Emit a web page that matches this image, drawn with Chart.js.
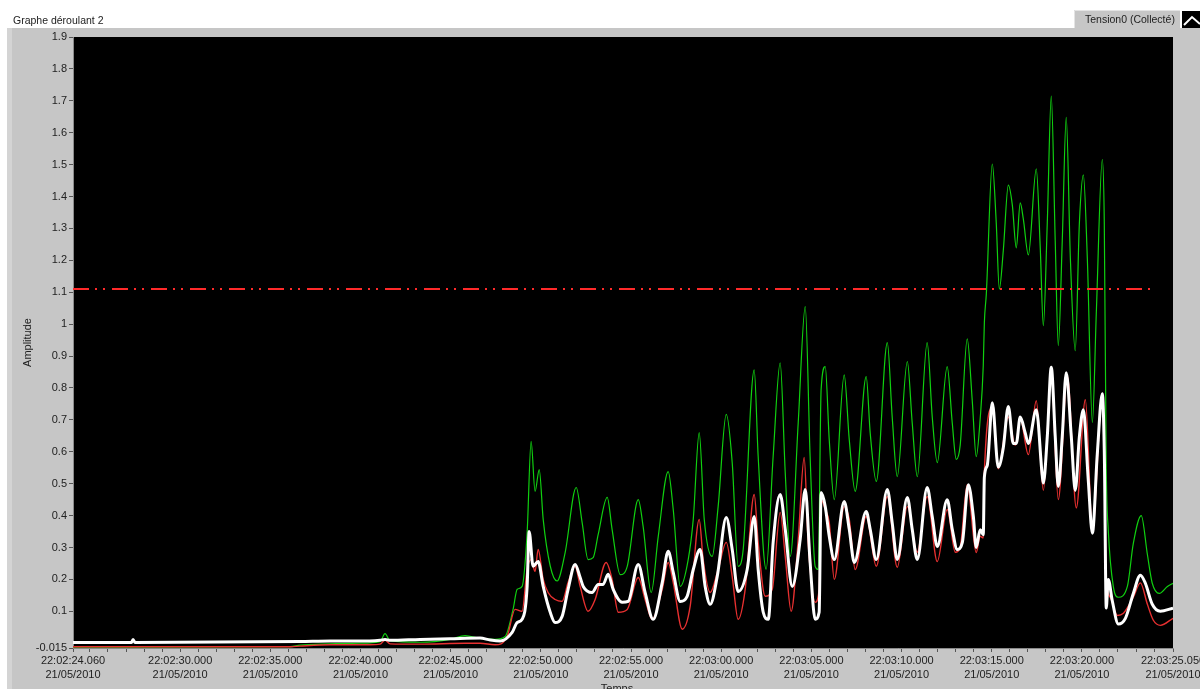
<!DOCTYPE html>
<html><head><meta charset="utf-8">
<script src="https://cdn.jsdelivr.net/npm/chart.js@4.4.1/dist/chart.umd.min.js"></script>
<style>html,body{margin:0;padding:0;background:#fff;overflow:hidden}</style>
</head><body>
<canvas id="c" width="1200" height="689"></canvas>
<script>
const chartTitle = 'Graphe déroulant 2';
const legendLabel = 'Tension0 (Collecté)';
const xAxisTitle = 'Temps';
const yAxisTitle = 'Amplitude';
const dateLabel = '21/05/2010';
const thresholdValue = 1.11;

// time axis: seconds after 22:02:00
const xMin = 24.06, xMax = 85.05;
const xMajorTimes = [24.06, 30, 35, 40, 45, 50, 55, 60, 65, 70, 75, 80, 85.05];
const xMajorLabels = ['22:02:24.060','22:02:30.000','22:02:35.000','22:02:40.000','22:02:45.000','22:02:50.000','22:02:55.000','22:03:00.000','22:03:05.000','22:03:10.000','22:03:15.000','22:03:20.000','22:03:25.050'];
const yTickValues = [-0.015,0.1,0.2,0.3,0.4,0.5,0.6,0.7,0.8,0.9,1,1.1,1.2,1.3,1.4,1.5,1.6,1.7,1.8,1.9];
const yTickLabels = ['-0.015','0.1','0.2','0.3','0.4','0.5','0.6','0.7','0.8','0.9','1','1.1','1.2','1.3','1.4','1.5','1.6','1.7','1.8','1.9'];

const greenT = [24.06,27.22,36.10,36.65,38.31,39.98,41.09,41.36,41.64,43.31,44.97,45.80,46.63,47.46,48.02,48.46,48.69,48.96,49.24,49.46,49.68,49.91,50.13,50.52,50.90,51.35,51.96,52.29,52.62,52.90,53.18,53.68,53.95,54.40,54.79,55.40,55.67,56.12,56.51,57.06,57.34,57.73,58.17,58.45,58.78,59.06,59.50,59.83,60.28,60.61,60.94,61.22,61.83,62.05,62.49,62.88,63.27,63.55,63.83,64.27,64.66,64.93,65.21,65.38,65.54,65.77,65.99,66.27,66.82,67.10,67.43,68.04,68.26,68.60,69.21,69.48,69.76,70.32,70.59,70.87,71.42,71.70,71.98,72.53,72.81,73.03,73.25,73.64,73.92,74.14,74.36,74.53,74.59,74.70,75.03,75.25,75.42,75.64,75.92,76.14,76.36,76.58,76.75,77.03,77.47,77.69,77.86,78.08,78.30,78.52,78.69,78.91,79.13,79.36,79.63,79.86,80.08,80.30,80.58,80.80,81.13,81.24,81.35,81.46,81.74,82.02,82.52,82.85,83.29,83.63,83.90,84.29,84.74,85.05];
const greenV = [-0.012,-0.012,-0.011,-0.006,-0.002,0.0,0.005,0.03,0.008,0.003,0.012,0.024,0.015,0.012,0.021,0.106,0.169,0.178,0.347,0.633,0.476,0.544,0.388,0.242,0.195,0.285,0.488,0.378,0.262,0.268,0.341,0.457,0.357,0.215,0.241,0.45,0.366,0.159,0.335,0.538,0.419,0.178,0.262,0.388,0.66,0.388,0.272,0.428,0.717,0.566,0.241,0.294,0.857,0.585,0.232,0.585,0.879,0.535,0.272,0.691,1.055,0.585,0.241,0.231,0.795,0.867,0.638,0.45,0.841,0.638,0.476,0.836,0.66,0.507,0.942,0.71,0.522,0.883,0.691,0.522,0.942,0.71,0.566,0.867,0.691,0.576,0.62,0.954,0.76,0.585,0.704,0.87,1.004,1.095,1.502,1.318,1.11,1.23,1.436,1.374,1.239,1.38,1.33,1.217,1.487,1.239,0.995,1.318,1.715,1.261,0.933,1.261,1.648,1.206,0.917,1.318,1.468,1.206,0.692,1.039,1.516,1.318,0.547,0.356,0.178,0.144,0.178,0.313,0.4,0.278,0.188,0.156,0.178,0.188];

const redT = [24.06,36.10,36.65,38.31,40.50,41.09,41.36,41.64,43.31,45.80,46.63,47.46,48.13,48.57,48.96,49.24,49.46,49.68,49.85,50.13,50.40,50.79,51.18,51.51,51.90,52.18,52.62,53.01,53.62,53.95,54.29,54.79,55.40,55.78,56.17,56.73,57.06,57.34,57.84,58.28,58.78,59.00,59.39,59.83,60.28,60.61,60.94,61.33,61.83,62.05,62.44,62.83,63.27,63.55,63.88,64.27,64.60,64.82,65.21,65.43,65.54,65.77,65.99,66.27,66.82,67.10,67.43,68.04,68.60,69.21,69.76,70.32,70.87,71.42,71.98,72.53,72.98,73.25,73.64,74.14,74.36,74.53,74.59,75.03,75.36,75.92,76.30,76.58,77.03,77.47,77.86,78.30,78.69,79.19,79.69,80.19,80.58,81.13,81.24,81.35,81.57,81.96,82.30,82.85,83.24,83.63,83.96,84.35,85.05];
const redV = [-0.011,-0.011,-0.009,-0.005,-0.005,-0.003,0.01,-0.002,-0.003,0.0,0.0,-0.005,0.021,0.106,0.1,0.231,0.262,0.225,0.294,0.2,0.159,0.137,0.131,0.19,0.241,0.178,0.1,0.137,0.253,0.2,0.097,0.106,0.206,0.137,0.075,0.169,0.253,0.19,0.044,0.116,0.388,0.262,0.159,0.231,0.316,0.209,0.075,0.169,0.466,0.316,0.147,0.169,0.41,0.272,0.1,0.326,0.582,0.316,0.128,0.169,0.45,0.419,0.378,0.2,0.428,0.388,0.231,0.397,0.241,0.46,0.238,0.428,0.285,0.46,0.256,0.419,0.285,0.3,0.497,0.284,0.335,0.33,0.535,0.737,0.547,0.709,0.62,0.704,0.591,0.76,0.479,0.838,0.45,0.838,0.424,0.763,0.356,0.776,0.6,0.2,0.144,0.087,0.094,0.144,0.189,0.122,0.072,0.056,0.078];

const whiteT = [24.06,27.30,27.39,27.50,36.65,38.31,40.50,41.09,41.36,41.64,43.31,44.97,46.63,47.19,47.74,48.41,48.69,48.96,49.24,49.35,49.57,49.85,50.13,50.52,50.79,51.18,51.51,51.90,52.18,52.35,52.84,53.18,53.45,53.73,54.01,54.51,54.84,55.40,55.78,56.23,56.73,57.06,57.34,57.73,58.11,58.45,58.83,59.11,59.39,59.78,60.28,60.61,60.94,61.44,61.83,62.05,62.33,62.61,62.88,63.27,63.55,63.94,64.38,64.66,64.93,65.21,65.43,65.54,65.77,65.99,66.27,66.82,67.10,67.38,68.04,68.26,68.60,69.21,69.48,69.76,70.32,70.59,70.87,71.42,71.70,71.98,72.53,72.81,73.09,73.37,73.70,73.98,74.14,74.36,74.53,74.59,74.75,75.03,75.36,75.64,75.92,76.19,76.36,76.58,76.86,77.03,77.47,77.80,77.86,78.08,78.30,78.52,78.69,78.91,79.13,79.41,79.63,79.86,80.08,80.35,80.58,80.85,81.13,81.24,81.35,81.46,81.68,82.02,82.41,82.85,83.24,83.51,83.90,84.35,85.05];
const whiteV = [0.002,0.002,0.012,0.002,0.005,0.007,0.007,0.009,0.012,0.009,0.012,0.014,0.016,0.010,0.007,0.034,0.065,0.075,0.178,0.35,0.241,0.256,0.178,0.097,0.065,0.084,0.169,0.247,0.206,0.178,0.159,0.184,0.184,0.216,0.169,0.128,0.131,0.247,0.159,0.075,0.19,0.288,0.222,0.131,0.147,0.231,0.294,0.178,0.122,0.209,0.394,0.294,0.162,0.231,0.397,0.231,0.097,0.075,0.316,0.466,0.357,0.178,0.326,0.482,0.253,0.075,0.097,0.472,0.428,0.335,0.262,0.444,0.357,0.253,0.413,0.357,0.262,0.482,0.378,0.262,0.457,0.357,0.262,0.488,0.397,0.303,0.45,0.357,0.294,0.316,0.497,0.397,0.30,0.356,0.34,0.52,0.557,0.754,0.552,0.613,0.742,0.626,0.626,0.709,0.658,0.626,0.732,0.525,0.502,0.648,0.865,0.648,0.491,0.648,0.848,0.648,0.479,0.648,0.732,0.513,0.345,0.591,0.782,0.604,0.11,0.2,0.134,0.06,0.078,0.156,0.213,0.189,0.122,0.1,0.11];

const thresholdT = [24.06, 84.02];

function pts(t, v) { const n = Math.min(t.length, v.length); const o = []; for (let i = 0; i < n; i++) o.push({x: t[i], y: v[i]}); return o; }

const FONT = 'Liberation Sans, Arial, sans-serif';

const bgPlugin = {
  id: 'bgPanel',
  beforeDraw(chart) {
    const {ctx, chartArea: a, width, height} = chart;
    ctx.save();
    ctx.fillStyle = '#ffffff'; ctx.fillRect(0, 0, width, height);
    ctx.fillStyle = '#c6c6c6'; ctx.fillRect(7, 28, width - 7, height - 28);
    ctx.fillStyle = '#d4d4d4'; ctx.fillRect(7, 28, 5, height - 28);
    ctx.fillStyle = '#000000'; ctx.fillRect(a.left, a.top, a.right - a.left, a.bottom - a.top);
    ctx.restore();
  },
  afterDraw(chart) {
    const {ctx, chartArea: a} = chart;
    ctx.save();
    ctx.fillStyle = '#222';
    ctx.font = '10.5px ' + FONT;
    ctx.textBaseline = 'alphabetic';
    ctx.textAlign = 'left';
    ctx.fillText(chartTitle, 13, 24);
    // legend box
    ctx.fillStyle = '#c6c6c6'; ctx.fillRect(1074, 10, 106, 18);
    ctx.strokeStyle = '#e4e4e4'; ctx.lineWidth = 1;
    ctx.beginPath(); ctx.moveTo(1074.5, 28); ctx.lineTo(1074.5, 10.5); ctx.lineTo(1180, 10.5); ctx.stroke();
    ctx.fillStyle = '#222';
    ctx.fillText(legendLabel, 1085, 23);
    ctx.fillStyle = '#000'; ctx.fillRect(1182, 11, 18, 17);
    ctx.strokeStyle = '#fff'; ctx.lineWidth = 2;
    ctx.beginPath(); ctx.moveTo(1184, 25); ctx.lineTo(1192, 17); ctx.lineTo(1200, 24); ctx.stroke();
    // axis titles
    ctx.font = '11px ' + FONT;
    ctx.fillStyle = '#222';
    ctx.textAlign = 'center';
    ctx.textBaseline = 'top';
    ctx.fillText(xAxisTitle, (a.left + a.right) / 2 - 6, 683);
    ctx.translate(28, (a.top + a.bottom) / 2);
    ctx.rotate(-Math.PI / 2);
    ctx.textBaseline = 'middle';
    ctx.fillText(yAxisTitle, 0, 0);
    ctx.restore();
  }
};

const common = {pointRadius: 0, fill: false, cubicInterpolationMode: 'monotone', tension: 0.4};

new Chart(document.getElementById('c'), {
  type: 'line',
  data: {
    datasets: [
      Object.assign({label: 'seuil', data: pts(thresholdT, [thresholdValue, thresholdValue]), borderColor: '#ff2a2a', borderWidth: 2, borderDash: [16, 6, 2, 6, 2, 7], order: 0}, {pointRadius: 0, fill: false}),
      Object.assign({label: 'blanc', data: pts(whiteT, whiteV), borderColor: '#ffffff', borderWidth: 3, order: 1}, common),
      Object.assign({label: 'rouge', data: pts(redT, redV), borderColor: '#e83030', borderWidth: 1.4, order: 2}, common),
      Object.assign({label: 'vert', data: pts(greenT, greenV), borderColor: '#10d010', borderWidth: 1.2, order: 3}, common)
    ]
  },
  options: {
    responsive: false,
    animation: false,
    layout: {padding: {left: 8, right: 27, top: 37, bottom: 0}},
    plugins: {legend: {display: false}, tooltip: {enabled: false}},
    scales: {
      x: {
        type: 'linear', min: xMin, max: xMax,
        afterBuildTicks(scale) {
          const t = [xMin];
          for (let s = Math.ceil(xMin); s < Math.floor(xMax); s++) t.push(s);
          t.push(xMax);
          scale.ticks = t.map(v => ({value: v}));
        },
        afterFit(scale) { scale.height = 41; scale.paddingLeft = 0; scale.paddingRight = 0; },
        grid: {drawOnChartArea: false, drawTicks: true, tickLength: 4, color: '#555', tickColor: '#555'},
        border: {display: true, color: '#8a8a8a'},
        ticks: {
          autoSkip: false, maxRotation: 0, minRotation: 0, padding: 2,
          color: '#222', font: {family: FONT, size: 11, lineHeight: 1.25},
          callback(v) {
            const i = xMajorTimes.findIndex(t => Math.abs(t - v) < 1e-6);
            return i < 0 ? '' : [xMajorLabels[i], dateLabel];
          }
        }
      },
      y: {
        type: 'linear', min: -0.015, max: 1.9,
        afterBuildTicks(scale) { scale.ticks = yTickValues.map(v => ({value: v})); },
        afterFit(scale) { scale.width = 65; },
        grid: {drawOnChartArea: false, drawTicks: true, tickLength: 4, color: '#555', tickColor: '#555'},
        border: {display: true, color: '#8a8a8a'},
        ticks: {
          autoSkip: false, padding: 2, color: '#222', font: {family: FONT, size: 11},
          callback(v, i) { return yTickLabels[i]; }
        }
      }
    }
  },
  plugins: [bgPlugin]
});
</script>
</body></html>
